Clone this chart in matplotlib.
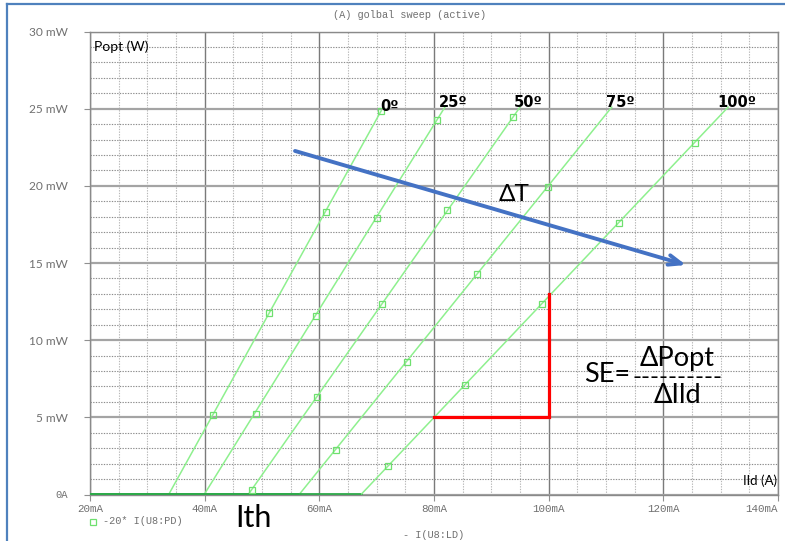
import matplotlib
matplotlib.use("Agg")
import matplotlib.pyplot as plt
from matplotlib.lines import Line2D
from matplotlib.ticker import MultipleLocator

# ---- data -------------------------------------------------------------
temps = ["0º", "25º", "50º", "75º", "100º"]
i_start = 20.0                                   # sweep start current (mA)
i_th = [33.8, 40.0, 47.7, 56.6, 67.4]             # threshold currents (mA)
i_end = [70.8, 81.9, 95.0, 111.0, 131.3]          # last sweep point (mA)
p_end = [24.87, 25.1, 25.1, 25.1, 25.1]           # optical power at last point (mW)

marker_i = [
    [41.5, 51.3, 61.1, 70.8],
    [49.0, 59.4, 70.0, 80.5],
    [48.3, 59.6, 70.9, 82.3, 93.7],
    [62.9, 75.3, 87.55, 99.9],
    [72.0, 85.4, 98.8, 112.2, 125.5],
]
marker_p = [
    [5.15, 11.77, 18.33, 24.87],
    [5.21, 11.58, 17.9, 24.24],
    [0.3, 6.3, 12.36, 18.44, 24.46],
    [2.9, 8.57, 14.29, 19.95],
    [1.84, 7.08, 12.32, 17.58, 22.8],
]

x_ticks = [20, 40, 60, 80, 100, 120, 140]
x_tick_labels = ["20mA", "40mA", "60mA", "80mA", "100mA", "120mA", "140mA"]
y_ticks = [0, 5, 10, 15, 20, 25, 30]
y_tick_labels = ["0A", "5 mW", "10 mW", "15 mW", "20 mW", "25 mW", "30 mW"]

# temperature-shift arrow and slope-efficiency triangle
dt_start = (55.76, 22.26)
dt_end = (123.96, 14.87)
se_i = [80, 100, 100]
se_p = [5, 5, 13]

# ---- style ------------------------------------------------------------
W, H = 785, 541
SANS = ["Lato", "DejaVu Sans"]
BOLD = ["DejaVu Sans"]
MONO = ["Liberation Mono", "DejaVu Sans Mono"]
LIGHT_GREEN = "#8ef08e"
DARK_GREEN = "#2eaa4a"
GRAY_TXT = "#707070"

fig = plt.figure(figsize=(W / 100, H / 100), dpi=100)
fig.patch.set_facecolor("white")

x0, x1, ytop, ybot = 90, 778, 31.5, 494.5
ax = fig.add_axes([x0 / W, 1 - ybot / H, (x1 - x0) / W, (ybot - ytop) / H])
ax.set_xlim(20, 140)
ax.set_ylim(0, 30)

ax.xaxis.set_minor_locator(MultipleLocator(5))
ax.yaxis.set_minor_locator(MultipleLocator(1))
ax.set_xticks(x_ticks)
ax.set_xticklabels(x_tick_labels, family=MONO, fontsize=7.8, color=GRAY_TXT)
ax.get_xticklabels()[-1].set_horizontalalignment("right")
ax.set_yticks(y_ticks)
ax.set_yticklabels(y_tick_labels, family=SANS, fontsize=8.6, color=GRAY_TXT)
ax.get_yticklabels()[0].set_fontfamily(MONO)
ax.get_yticklabels()[0].set_fontsize(7.6)
ax.tick_params(which="major", length=4, width=0.8, color="#909090", pad=3)
ax.tick_params(axis="y", pad=12)
ax.tick_params(which="minor", length=0)

ax.xaxis.grid(True, which="major", color="#7a7a7a", lw=1.0, ls="-")
ax.yaxis.grid(True, which="major", color="#a4a4a4", lw=1.6, ls="-")
ax.xaxis.grid(True, which="minor", color="#b8b8b8", lw=0.8, ls=(0, (1.2, 1.2)))
ax.yaxis.grid(True, which="minor", color="#8c8c8c", lw=0.8, ls=(0, (1.2, 1.2)))
ax.set_axisbelow(True)
for s in ax.spines.values():
    s.set_color("#8a8a8a")
    s.set_linewidth(1.0)

# ---- L-I curves -------------------------------------------------------
for k in range(len(temps)):
    # below threshold (flat) part
    ax.plot([i_start, i_th[k]], [0.05, 0.05], color=DARK_GREEN, lw=1.3, zorder=3)
    # lasing part
    ax.plot([i_th[k], i_end[k]], [0.05, p_end[k]], color=LIGHT_GREEN, lw=1.1, zorder=3)
    ax.plot(marker_i[k], marker_p[k], ls="none", marker="s", ms=4.2,
            mfc="none", mec="#6fe06f", mew=0.9, zorder=4)
    ax.annotate(temps[k], (i_end[k], p_end[k]), xytext=(6, 0),
                textcoords="offset points", ha="center", va="baseline",
                fontsize=10.5, fontweight="bold", family=BOLD, color="black",
                zorder=6)

# temperature shift arrow
ax.annotate("", xy=dt_end, xytext=dt_start,
            arrowprops=dict(arrowstyle="->,head_length=0.9,head_width=0.35",
                            color="#4472c4", lw=2.8, shrinkA=0, shrinkB=0),
            zorder=5)
ax.text(94.05, 19.44, "ΔT", fontsize=17.5, family=SANS, ha="center", va="center",
        zorder=6)

# slope efficiency triangle
ax.plot(se_i, se_p, color="#ff0000", lw=2.3, solid_joinstyle="miter", zorder=5)

# axis captions inside the frame
ax.text(20.7, 29.0, "Popt (W)", fontsize=10, family=SANS, ha="left", va="center")
ax.text(139.9, 0.5, "Ild (A)", fontsize=9.6, family=SANS, ha="right", va="bottom")

# ---- figure level texts ----------------------------------------------
def ftext(px, py, s, **kw):
    fig.text(px / W, 1 - py / H, s, **kw)

ftext(410, 15, "(A) golbal sweep (active)", family=MONO, fontsize=7.4,
      color=GRAY_TXT, ha="center", va="center")
ftext(253, 518, "Ith", family=SANS, fontsize=22, ha="center", va="center")
ftext(584, 375, "SE=", family=SANS, fontsize=19.5, ha="left", va="center")
ftext(677, 366, "ΔPopt", family=SANS, fontsize=19.5, ha="center", va="baseline")
ftext(678, 377, "----------", family=SANS, fontsize=17.5, ha="center",
      va="center")
ftext(677.5, 403, "ΔIld", family=SANS, fontsize=19.5, ha="center", va="baseline")

fig.add_artist(Line2D([93 / W], [1 - 521.5 / H], marker="s", ms=4, mfc="none",
                      mec="#6fe06f", mew=0.9, ls="none"))
ftext(103, 521.5, "-20* I(U8:PD)", family=MONO, fontsize=7.4, color=GRAY_TXT,
      ha="left", va="center")
ftext(403, 535, "- I(U8:LD)", family=MONO, fontsize=7.4, color=GRAY_TXT,
      ha="left", va="center")

# slide frame
frame_col = "#4f81bd"
fig.add_artist(Line2D([7 / W, 7 / W], [0, 1 - 4 / H], color=frame_col, lw=1.6))
fig.add_artist(Line2D([7 / W, 1], [1 - 4 / H, 1 - 4 / H], color=frame_col, lw=1.6))

fig.savefig("out.png", dpi=100)
